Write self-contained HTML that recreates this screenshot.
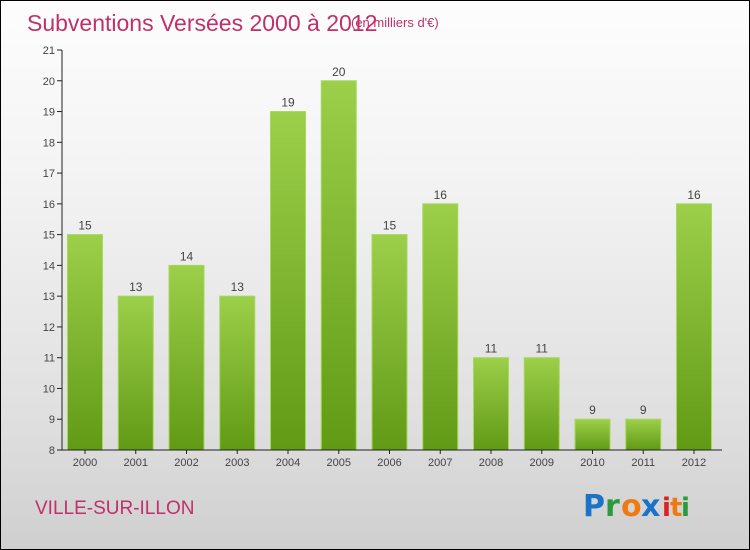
<!DOCTYPE html>
<html><head><meta charset="utf-8"><style>
body{margin:0;}
#c{width:750px;height:550px;position:relative;box-sizing:border-box;border:1px solid #000;background:linear-gradient(#fdfdfd,#f4f4f4 30%,#e0e0e0 75%,#cfcfcf);font-family:"Liberation Sans",sans-serif;overflow:hidden}
</style></head><body>
<div id="c">
<svg width="748" height="548">
<defs><linearGradient id="g" x1="0" y1="0" x2="0" y2="1"><stop offset="0" stop-color="#9ccf4a"/><stop offset="1" stop-color="#619a15"/></linearGradient></defs>
<text x="26" y="30" font-size="23" fill="#c0306a">Subventions Versées 2000 à 2012</text>
<text x="350" y="26" font-size="13" fill="#c0306a">(en milliers d'€)</text>
<g id="plot"></g>
<text x="34" y="513" font-size="19" fill="#c0306a">VILLE-SUR-ILLON</text>
<g font-size="30" font-weight="bold" font-family="'DejaVu Sans',sans-serif">
<text x="582" y="515" fill="#1a73c8">P</text><text x="604" y="515" fill="#2a9a3a">r</text><text x="620" y="515" fill="#f07a10">o</text><text x="640" y="515" fill="#1a73c8">x</text><text x="661" y="515" fill="#e02020" font-size="26">i</text><text x="669" y="515" fill="#f07a10" font-size="26">t</text><text x="680" y="515" fill="#2a9a3a" font-size="26">i</text>
</g>
</svg></div>
<script>
const categories=["2000","2001","2002","2003","2004","2005","2006","2007","2008","2009","2010","2011","2012"];
const values=[15,13,14,13,19,20,15,16,11,11,9,9,16];
const yTicks=[8,9,10,11,12,13,14,15,16,17,18,19,20,21];
const ns="http://www.w3.org/2000/svg";
const g=document.getElementById('plot');
const y0=449,yMin=8,yMax=21,yTop=49;
function y(v){return y0-(v-yMin)/(yMax-yMin)*(y0-yTop);}
function x(i){return 84+i*50.75;}
function mk(t,a){const e=document.createElementNS(ns,t);for(const k in a)e.setAttribute(k,a[k]);g.appendChild(e);return e;}
yTicks.forEach(v=>{
 const l=mk('line',{x1:56,x2:61,y1:y(v),y2:y(v),stroke:'#222'});
 
 
 const t=mk('text',{x:54,y:y(v)+4,'text-anchor':'end','font-size':11,fill:'#444'});
 t.textContent=v;
 
 
});
categories.forEach((c,i)=>{
 const r=mk('rect',{x:x(i)-17.5,y:y(values[i]),width:35,height:y0-y(values[i]),fill:'url(#g)',stroke:'#a6d85a','stroke-width':1});
 
 
 const t=mk('text',{x:x(i),y:y(values[i])-5,'text-anchor':'middle','font-size':12,fill:'#444'});
 t.textContent=values[i];
 
 
 const k=mk('line',{x1:x(i),x2:x(i),y1:y0,y2:y0+4,stroke:'#222'});
 
 
 const xl=mk('text',{x:x(i),y:y0+16,'text-anchor':'middle','font-size':11,fill:'#444'});
 xl.textContent=c;
 
 
});
const ya=mk('line',{x1:61,x2:61,y1:yTop,y2:y0,stroke:'#222'});


const xa=mk('line',{x1:61,x2:721,y1:y0,y2:y0,stroke:'#222'});


</script>
</body></html>
